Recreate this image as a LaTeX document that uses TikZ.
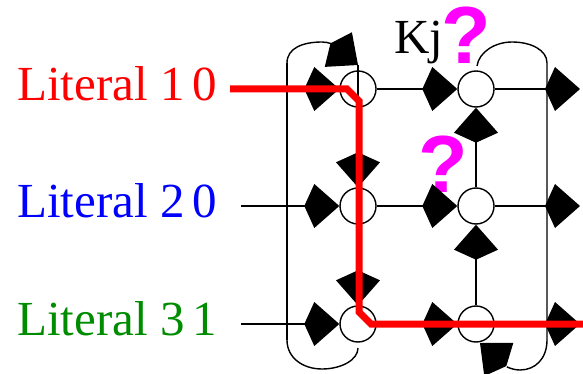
\documentclass[tikz,border=0pt]{standalone}
\usepackage{fontspec}
\setmainfont{Liberation Serif}
\newfontfamily\qmarkfont{Liberation Sans}
\usetikzlibrary{arrows.meta,bending,positioning}
\definecolor{litred}{HTML}{FF0000}
\definecolor{litblue}{HTML}{0000FF}
\definecolor{litgreen}{HTML}{008C00}
\definecolor{qmagenta}{HTML}{FF00FF}

\begin{document}
\begin{tikzpicture}[
  x=1pt, y=-1pt,
  every node/.style={inner sep=0pt},
  literal/.style={anchor=base west, font=\fontsize{49}{50}\selectfont},
  cell/.style={circle, draw, fill=white, line width=1.4pt, minimum size=36pt},
  wire/.style={line width=1.4pt},
  arrow/.style={wire, -{Kite[length=35pt, width=44pt, inset=10pt]}},
  query/.style={anchor=base, text=qmagenta, text height=58pt,
                font=\fontsize{81}{83}\selectfont\qmarkfont\bfseries},
  route/.style={draw=litred, line width=7pt}
]
\useasboundingbox (0,0) rectangle (583,374);

\node[cell] (c11) at (358,89) {};
\node[cell] (c12) at (476,89) {};
\node[cell] (c21) at (358,206) {};
\node[cell] (c22) at (476,206) {};
\node[cell] (c31) at (358,324) {};
\node[cell] (c32) at (476,324) {};

\node[literal, text=litred] (lit10) at (17,101) {Literal 1\,0};
\node[literal, text=litblue] (lit20) at (17,217) {Literal 2\,0};
\node[literal, text=litgreen] (lit31) at (17,335) {Literal 3\,1};
\node[literal] (kj) at (394,54) {Kj};
\node[query] (q1) at (466,64) {?};
\node[query] (q2) at (443,193) {?};

\coordinate (in1) at (241,89);
\coordinate (in2) at (241,206);
\coordinate (in3) at (241,324);
\coordinate (out1) at (580,89);
\coordinate (out2) at (580,206);
\coordinate (out3) at (580,324);
\coordinate (lt) at (287,63);
\coordinate (lb) at (287,340);
\coordinate (rt) at (547,63);
\coordinate (rb) at (547,340);
\coordinate (t11) at (358,65);
\coordinate (b31) at (358,348);
\coordinate (t12) at (477,66);
\coordinate (b32) at (480,343);

\draw[arrow] (in1) -- (c11);
\draw[arrow] (c11) -- (c12);
\draw[arrow] (c12) -- (out1);
\draw[arrow] (in2) -- (c21);
\draw[arrow] (c21) -- (c22);
\draw[arrow] (c22) -- (out2);
\draw[arrow] (in3) -- (c31);
\draw[arrow] (c31) -- (c32);
\draw[arrow] (c32) -- (out3);
\draw[arrow] (c11) -- (c21);
\draw[arrow] (c21) -- (c31);
\draw[arrow] (c22) -- (c12);
\draw[arrow] (c32) -- (c22);

\draw[wire] (lb) -- (lt);
\draw[arrow] (lt) .. controls (287,48) and (303,42) .. (322,42)
  .. controls (336,42) and (349,54) .. (t11);
\draw[wire] (t11) -- (c11.south);
\draw[wire] (lb) .. controls (287,358) and (303,369) .. (322,369)
  .. controls (341,369) and (358,360) .. (b31);
\draw[wire] (t12) .. controls (479,52) and (495,42) .. (512,42)
  .. controls (531,42) and (547,50) .. (rt) -- (rb);
\draw[arrow] (rb) .. controls (547,359) and (535,370) .. (520,370)
  .. controls (505,370) and (488,356) .. (b32);

\draw[route] (230,89) -- ++(117,0) -- ++(12,12) -- ++(0,211) -- ++(12,12) -- (583,324);
\end{tikzpicture}
\end{document}
